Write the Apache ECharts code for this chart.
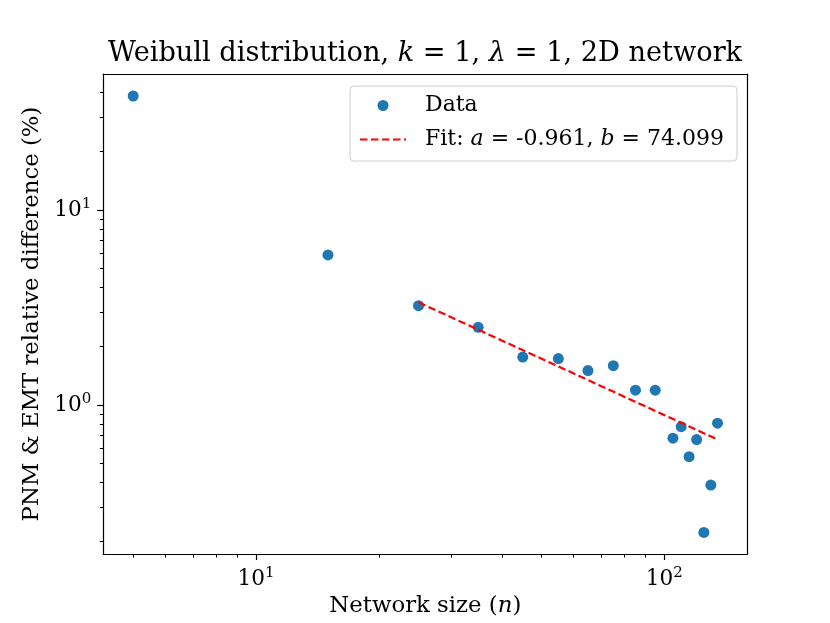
<!DOCTYPE html>
<html>
<head>
<meta charset="utf-8">
<script src="https://cdn.jsdelivr.net/npm/echarts@6/dist/echarts.min.js"></script>
<style>
  html, body { margin: 0; padding: 0; background: #fff; }
  #chart { width: 830px; height: 623px; }
</style>
</head>
<body>
<div id="chart"></div>
<script>
// network sizes and PNM/EMT relative differences (%)
const sizes = [5, 15, 25, 35, 45, 55, 65, 75, 85, 95, 105, 110, 115, 120, 125, 130, 135];
const diffs = [38.4, 5.88, 3.23, 2.50, 1.76, 1.73, 1.50, 1.59, 1.19, 1.19, 0.675, 0.774, 0.543, 0.664, 0.222, 0.388, 0.806];

// fit y = b * n^a, drawn between its end points
const fitSizes = [25, 135];
const fitDiffs = [3.36, 0.665];

const xMajorTicks = [10, 100];
const xMinorTicks = [5, 6, 7, 8, 9, 20, 30, 40, 50, 60, 70, 80, 90];
const yMajorTicks = [1, 10];
const yMinorTicks = [0.2, 0.3, 0.4, 0.5, 0.6, 0.7, 0.8, 0.9, 2, 3, 4, 5, 6, 7, 8, 9, 20, 30, 40];
const tickLabels = { 1: ['10', '0'], 10: ['10', '1'], 100: ['10', '2'] };

const xMin = 4.224, xMax = 159.7;
const yMin = 0.172, yMax = 49.8;

const FONT = '"DejaVu Serif", serif';
const FS = 22;

const supLabel = v => {
  const t = tickLabels[Math.round(v)];
  return t ? `{b|${t[0]}}{s|${t[1]}}` : '';
};
const labelRich = {
  b: { fontFamily: FONT, fontSize: 21.6, color: '#000', lineHeight: 26 },
  s: { fontFamily: FONT, fontSize: 15, color: '#000', verticalAlign: 'top', lineHeight: 15 }
};
const textRich = {
  t: { fontFamily: FONT, fontSize: FS, color: '#000' },
  i: { fontFamily: FONT, fontSize: FS, color: '#000', fontStyle: 'italic' }
};
const nameRich = {
  t: { fontFamily: FONT, fontSize: 22.8, color: '#000' },
  i: { fontFamily: FONT, fontSize: 22.8, color: '#000', fontStyle: 'italic' }
};

const mainAxis = (min, max, pos, major, name, nameGap) => ({
  type: 'log', min, max, position: pos,
  name, nameLocation: 'middle', nameGap,
  nameTextStyle: { rich: nameRich },
  axisLine: { show: true, lineStyle: { color: '#000', width: 1.2 } },
  axisTick: { show: true, customValues: major, length: 6, lineStyle: { color: '#000', width: 1.2 } },
  axisLabel: { customValues: major, margin: 12, formatter: supLabel, rich: labelRich },
  splitLine: { show: true, showMinLine: false, showMaxLine: false, lineStyle: { color: '#b0b0b0', width: 1 } },
  z: 3
});
const minorAxis = (min, max, pos, minor) => ({
  type: 'log', min, max, position: pos,
  axisLine: { show: false },
  axisTick: { show: true, customValues: minor, length: 3.5, lineStyle: { color: '#000', width: 1 } },
  axisLabel: { show: false },
  splitLine: { show: false }
});
const frameAxis = (min, max, pos) => ({
  type: 'log', min, max, position: pos,
  axisLine: { show: true, lineStyle: { color: '#000', width: 1.2 } },
  axisTick: { show: false },
  axisLabel: { show: false },
  splitLine: { show: false },
  z: 3
});

const chart = echarts.init(document.getElementById('chart'), null, { renderer: 'canvas' });

chart.setOption({
  backgroundColor: '#fff',
  animation: false,
  title: {
    text: '{t|Weibull distribution, }{i|k}{t| = 1, }{i|λ}{t| = 1, 2D network}',
    left: 425, top: 40, padding: 0, textAlign: 'center',
    textStyle: {
      fontWeight: 'normal',
      rich: {
        t: { fontFamily: FONT, fontSize: 27.2, fontWeight: 'normal', color: '#000' },
        i: { fontFamily: FONT, fontSize: 27.2, fontWeight: 'normal', color: '#000', fontStyle: 'italic' }
      }
    }
  },
  grid: { left: 103.3, top: 74, width: 644, height: 480, containLabel: false },
  legend: {
    orient: 'vertical', left: 350, top: 86,
    padding: [8, 13, 10, 9],
    itemWidth: 46, itemHeight: 11, itemGap: 11,
    backgroundColor: 'rgba(255,255,255,0.8)',
    borderColor: '#cccccc', borderWidth: 1, borderRadius: 4,
    textStyle: { padding: [0, 0, 0, 14], lineHeight: 23, rich: textRich },
    data: [
      { name: 'Data', icon: 'circle' },
      { name: 'Fit', itemStyle: { opacity: 0 } }
    ],
    formatter: name => name === 'Data'
      ? '{t|Data}'
      : '{t|Fit: }{i|a}{t| = -0.961, }{i|b}{t| = 74.099}'
  },
  xAxis: [
    mainAxis(xMin, xMax, 'bottom', xMajorTicks, '{t|Network size (}{i|n}{t|)}', 40),
    minorAxis(xMin, xMax, 'bottom', xMinorTicks),
    frameAxis(xMin, xMax, 'top')
  ],
  yAxis: [
    mainAxis(yMin, yMax, 'left', yMajorTicks, '{t|PNM & EMT relative difference (%)}', 57),
    minorAxis(yMin, yMax, 'left', yMinorTicks),
    frameAxis(yMin, yMax, 'right')
  ],
  series: [
    {
      name: 'Data', type: 'scatter',
      data: sizes.map((n, i) => [n, diffs[i]]),
      symbol: 'circle', symbolSize: 11,
      itemStyle: { color: '#1f77b4', opacity: 1 },
      z: 4
    },
    {
      name: 'Fit', type: 'line',
      data: fitSizes.map((n, i) => [n, fitDiffs[i]]),
      symbol: 'none',
      lineStyle: { color: '#ff0000', width: 2.2, type: [7.5, 3.5] },
      itemStyle: { color: '#ff0000' },
      z: 5
    }
  ]
});
</script>
</body>
</html>
